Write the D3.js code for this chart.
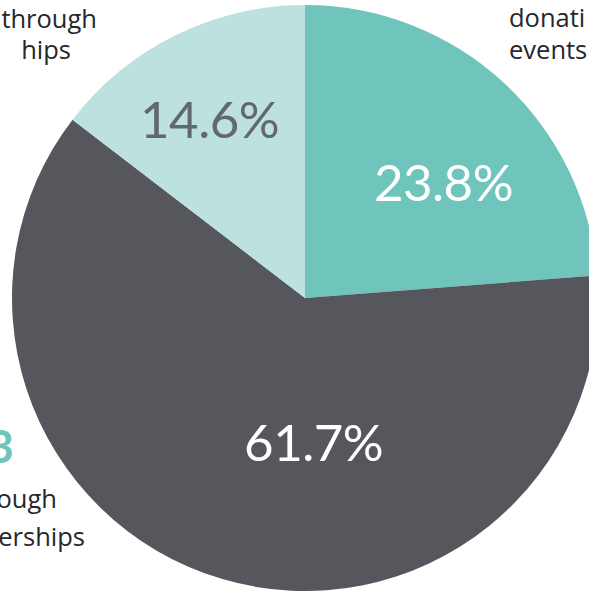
<!DOCTYPE html>
<html lang="en">
<head>
<meta charset="UTF-8">
<title>Funding sources</title>
<script src="https://d3js.org/d3.v7.min.js"></script>
<style>
  html, body { margin: 0; padding: 0; background: #fff; overflow: hidden; }
  svg { display: block; }
  .side { font-family: "Open Sans", sans-serif; font-size: 25.5px; fill: #26272b; }
  .pct { font-family: "Lato", sans-serif; font-size: 51px; font-weight: 400; letter-spacing: -0.5px; }
</style>
</head>
<body>
<svg id="chart" width="589" height="594"></svg>
<script>
  // slices, clockwise from 12 o'clock
  const categories = ['donations and events', 'corporate partnerships', 'memberships'];
  const values = [23.8, 61.7, 14.6];
  const sliceColors = ['#6fc5bb', '#55575c', '#bce1de'];
  const labelColors = ['#ffffff', '#ffffff', '#626870'];

  const width = 589, height = 594;
  const cx = 305, cy = 298, radius = 293;

  const svg = d3.select('#chart');

  // caption fragments that show inside the frame
  const captions = [
    { lines: ['through', 'hips'], x: [97, 71], y: [28, 59], anchor: 'end' },
    { lines: ['donati', 'events'], x: [509, 509], y: [27, 59], anchor: 'start' },
    { lines: ['ough', 'erships'], x: [57, 85], y: [508, 546], anchor: 'end' }
  ];
  captions.forEach(c => {
    c.lines.forEach((t, i) => {
      svg.append('text')
        .attr('class', 'side')
        .attr('x', c.x[i])
        .attr('y', c.y[i])
        .attr('text-anchor', c.anchor)
        .text(t);
    });
  });

  // big teal figure at the left edge
  svg.append('text')
    .attr('x', 14)
    .attr('y', 463)
    .attr('text-anchor', 'end')
    .attr('font-family', 'Lato, sans-serif')
    .attr('font-weight', 700)
    .attr('font-size', 46)
    .attr('fill', '#6fc5bb')
    .text('3');

  const pie = d3.pie().sort(null).value(d => d);
  const arcs = pie(values);

  const arc = d3.arc().innerRadius(0).outerRadius(radius);
  const labelArc = d3.arc().innerRadius(radius * 0.52).outerRadius(radius * 0.52);

  const g = svg.append('g').attr('transform', `translate(${cx},${cy})`);

  g.selectAll('path')
    .data(arcs)
    .join('path')
    .attr('d', arc)
    .attr('fill', (d, i) => sliceColors[i]);

  // nudges from the centroid to where the source puts each figure
  const labelOffset = [[35, -4], [52, -1], [-28, -42]];
  g.selectAll('text.pct')
    .data(arcs)
    .join('text')
    .attr('class', 'pct')
    .attr('text-anchor', 'middle')
    .attr('fill', (d, i) => labelColors[i])
    .attr('x', (d, i) => labelArc.centroid(d)[0] + labelOffset[i][0])
    .attr('y', (d, i) => labelArc.centroid(d)[1] + labelOffset[i][1])
    .attr('dy', '0.36em')
    .text(d => d3.format('.1f')(d.data) + '%');
</script>
</body>
</html>
